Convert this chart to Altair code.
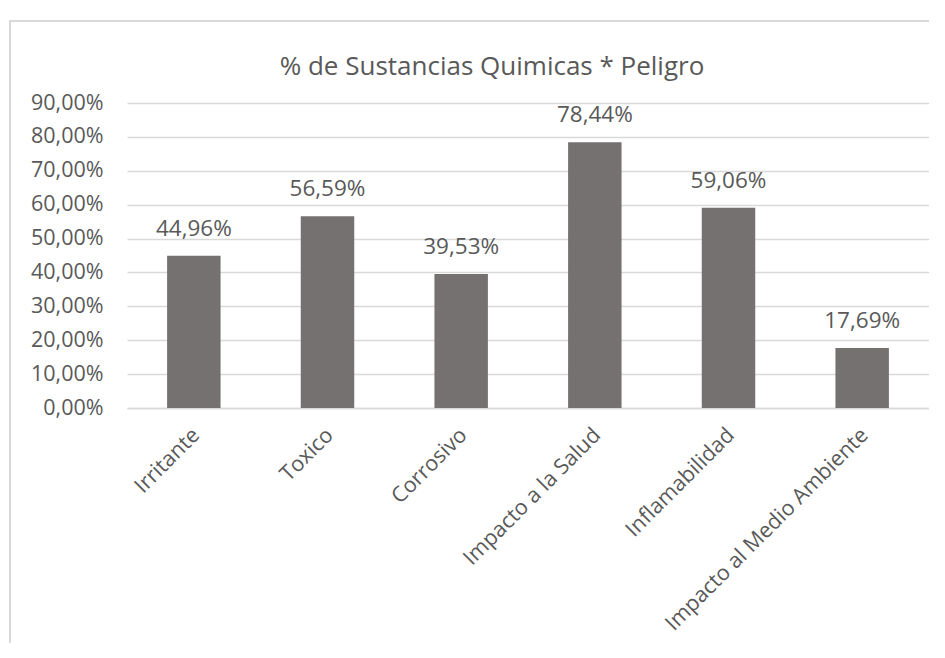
import altair as alt
import pandas as pd

categories = ["Irritante", "Toxico", "Corrosivo", "Impacto a la Salud",
              "Inflamabilidad", "Impacto al Medio Ambiente"]
values = [0.4496, 0.5659, 0.3953, 0.7844, 0.5906, 0.1769]
y_ticks = [0.0, 0.1, 0.2, 0.3, 0.4, 0.5, 0.6, 0.7, 0.8, 0.9]
title_text = "% de Sustancias Quimicas  * Peligro"

df = pd.DataFrame({"cat": categories, "v": values})
one = pd.DataFrame({"a": [0]})

TXT = "#595959"
GRID = "#d9d9d9"
FONT = "Open Sans"
fmt = "replace(format(datum.value, '.2%'), '.', ',')"

x = alt.X("cat:N", sort=categories, title=None,
          scale=alt.Scale(paddingInner=0.6, paddingOuter=0.3),
          axis=alt.Axis(labelAngle=-45, labelFontSize=21.5, labelColor=TXT,
                        labelFont=FONT, labelPadding=16, labelOffset=-5,
                        ticks=False, domainColor=GRID, domainWidth=1.5,
                        labelLimit=400))
y = alt.Y("v:Q", title=None,
          scale=alt.Scale(domain=[0, 0.9], nice=False),
          axis=alt.Axis(values=y_ticks, tickCount=10, labelExpr=fmt, grid=True,
                        gridColor=GRID, gridWidth=1.5, domain=False,
                        ticks=False, labelPadding=24, labelFontSize=21.5,
                        labelColor=TXT, labelFont=FONT, labelOverlap=False))

bars = alt.Chart(df).mark_bar(color="#767171").encode(x=x, y=y)

labels = alt.Chart(df).transform_calculate(
    lbl="replace(format(datum.v, '.2%'), '.', ',')"
).mark_text(dy=-20, baseline="alphabetic", fontSize=22.5, color=TXT,
            font=FONT).encode(x=x, y=y, text="lbl:N")

frame = alt.Chart(one).mark_rect(fill=None, stroke=GRID, strokeWidth=2).encode(
    x=alt.value(-117), x2=alt.value(1100), y=alt.value(-82), y2=alt.value(800))

title = alt.Chart(one).mark_text(text=title_text, fontSize=26, color=TXT,
                                 font=FONT, align="center",
                                 baseline="alphabetic").encode(
    x=alt.value(365), y=alt.value(-28))

chart = alt.layer(frame, bars, labels, title).properties(
    width=802, height=305,
    autosize=alt.AutoSizeParams(type="none"),
    padding={"left": 119, "top": 95, "right": 0, "bottom": 235},
).configure_view(stroke=None)

chart.save("out.html", embed_options={"renderer": "svg", "actions": False})
